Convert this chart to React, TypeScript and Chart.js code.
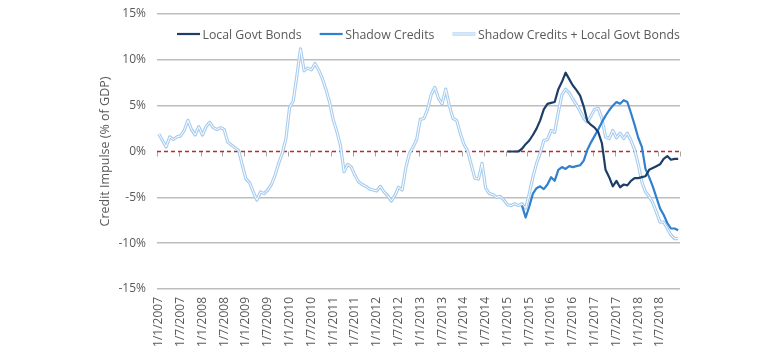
import React, { useEffect, useRef } from "react";
import { Chart, registerables } from "chart.js";

Chart.register(...registerables);

// Monthly categories Jan 2007 .. Dec 2018 (label format d/m/yyyy)
const YEARS = [2007, 2008, 2009, 2010, 2011, 2012, 2013, 2014, 2015, 2016, 2017, 2018];
const MONTHS = [1, 2, 3, 4, 5, 6, 7, 8, 9, 10, 11, 12];
const CATEGORIES: string[] = [];
YEARS.forEach((yr) => MONTHS.forEach((m) => CATEGORIES.push(`1/${m}/${yr}`)));

const Y_TICKS = [-15, -10, -5, 0, 5, 10, 15];

// Shadow Credits + Local Govt Bonds (whole period, % of GDP)
const COMBINED = [
  1.9, 1.2, 0.5, 1.6, 1.3, 1.6, 1.7, 2.3, 3.4, 2.4, 1.8, 2.7,
  1.8, 2.7, 3.2, 2.6, 2.4, 2.6, 2.4, 1.0, 0.7, 0.4, 0.1, -1.5,
  -3.0, -3.4, -4.4, -5.3, -4.4, -4.6, -4.2, -3.6, -2.6, -1.3, -0.2, 1.4,
  4.8, 5.5, 8.2, 11.2, 8.8, 9.1, 8.9, 9.6, 8.9, 8.0, 6.8, 5.4,
  3.5, 2.2, 0.7, -2.2, -1.4, -1.7, -2.6, -3.3, -3.6, -3.8, -4.1, -4.2,
  -4.3, -3.8, -4.4, -4.8, -5.4, -4.8, -3.9, -4.2, -1.8, -0.2, 0.5, 1.3,
  3.5, 3.6, 4.6, 6.2, 7.0, 5.8, 5.2, 6.8, 5.0, 3.6, 3.4, 2.0,
  0.8, 0.1, -1.4, -2.9, -3.0, -1.3, -4.0, -4.6, -4.7, -5.0, -4.9, -5.3,
  -5.8, -5.9, -5.7, -5.9, -5.7, -6.2, -4.6, -2.8, -1.3, -0.2, 1.2, 1.3,
  2.3, 2.1, 4.3, 6.2, 6.8, 6.4, 5.7, 5.1, 4.4, 3.6, 3.2, 3.9,
  4.6, 4.7, 3.6, 1.6, 1.4, 2.3, 1.5, 2.0, 1.4, 2.0, 1.2, 0.2,
  -1.4, -3.3, -4.4, -4.9, -5.6, -6.6, -7.7, -7.7, -8.4, -9.1, -9.5, -9.5,
];

// Local Govt Bonds (from Jan 2015)
const LOCAL_GOVT_BONDS = [
  ...Array(96).fill(null),
  0, 0, 0, 0, 0.3, 0.8, 1.2, 1.8, 2.5, 3.4, 4.6, 5.2,
  5.3, 5.4, 6.8, 7.6, 8.6, 7.9, 7.2, 6.7, 6.1, 4.9, 3.3, 2.9,
  2.6, 2.1, 0.9, -2.0, -2.8, -3.8, -3.2, -3.9, -3.6, -3.7, -3.2, -2.9,
  -2.9, -2.8, -2.7, -2.0, -1.8, -1.6, -1.4, -0.8, -0.5, -0.9, -0.8, -0.8,
];

// Shadow Credits (shown from May 2015)
const SHADOW_CREDITS = [
  ...Array(100).fill(null),
  -5.9, -7.2, -6.0, -4.6, -4.0, -3.8, -4.1, -3.6,
  -2.8, -3.2, -2.0, -1.7, -1.9, -1.6, -1.7, -1.6, -1.5, -1.0, 0.2, 1.0,
  1.7, 2.4, 3.2, 3.9, 4.5, 5.0, 5.4, 5.2, 5.6, 5.4, 4.2, 2.9,
  1.5, 0.5, -1.9, -2.8, -3.8, -5.0, -6.2, -6.9, -7.8, -8.4, -8.4, -8.6,
];

const NAVY = "#1d3f66";
const BLUE = "#3080d0";
const LIGHT = "#a9cdef";
const TEXT = "#595959";
const FONT_FAMILY = '"Open Sans", "Noto Sans", sans-serif';

const LEGEND_ITEMS = [
  { label: "Local Govt Bonds", kind: "navy" },
  { label: "Shadow Credits", kind: "blue" },
  { label: "Shadow Credits + Local Govt Bonds", kind: "hollow" },
];

const overlayPlugin = {
  id: "overlay",
  beforeDatasetsDraw(chart: any) {
    const { ctx, chartArea, scales } = chart;
    const x = scales.x;
    const y = scales.y;
    const y0 = y.getPixelForValue(0);
    const half = (x.getPixelForValue(1) - x.getPixelForValue(0)) / 2;
    ctx.save();
    ctx.strokeStyle = "#a6a6a6";
    ctx.lineWidth = 1;
    for (let k = 0; k <= CATEGORIES.length; k += 6) {
      const px = Math.round(x.getPixelForValue(k) - half) + 0.5;
      ctx.beginPath();
      ctx.moveTo(px, y0);
      ctx.lineTo(px, y0 + 5);
      ctx.stroke();
    }
    ctx.strokeStyle = "#c0282d";
    ctx.lineWidth = 1.5;
    ctx.setLineDash([4, 3]);
    ctx.beginPath();
    ctx.moveTo(chartArea.left, y0);
    ctx.lineTo(chartArea.right, y0);
    ctx.stroke();
    ctx.restore();
  },
  afterDatasetsDraw(chart: any) {
    const { ctx, chartArea } = chart;
    const yL = chartArea.top + 20;
    let xL = chartArea.left + 20;
    ctx.save();
    ctx.font = `12.3px ${FONT_FAMILY}`;
    ctx.textBaseline = "middle";
    ctx.textAlign = "left";
    LEGEND_ITEMS.forEach((it) => {
      const draw = (color: string, w: number) => {
        ctx.strokeStyle = color;
        ctx.lineWidth = w;
        ctx.beginPath();
        ctx.moveTo(xL, yL);
        ctx.lineTo(xL + 23, yL);
        ctx.stroke();
      };
      if (it.kind === "navy") draw(NAVY, 2.2);
      else if (it.kind === "blue") draw(BLUE, 2.2);
      else {
        draw(LIGHT, 3.2);
        draw("#ffffff", 1);
      }
      xL += 25.5;
      ctx.fillStyle = TEXT;
      ctx.fillText(it.label, xL, yL + 1);
      xL += ctx.measureText(it.label).width + 18;
    });
    ctx.restore();
  },
};

export default function App() {
  const canvasRef = useRef<HTMLCanvasElement | null>(null);

  useEffect(() => {
    if (!canvasRef.current) return;
    const chart = new Chart(canvasRef.current, {
      type: "line",
      data: {
        labels: CATEGORIES,
        datasets: [
          {
            label: "Local Govt Bonds",
            data: LOCAL_GOVT_BONDS,
            borderColor: NAVY,
            borderWidth: 2.2,
            borderJoinStyle: "round",
            pointRadius: 0,
            tension: 0,
          },
          {
            label: "Shadow Credits",
            data: SHADOW_CREDITS,
            borderColor: BLUE,
            borderWidth: 2.2,
            borderJoinStyle: "round",
            pointRadius: 0,
            tension: 0,
          },
          {
            label: "combined-inner",
            data: COMBINED,
            borderColor: "#ffffff",
            borderWidth: 1,
            borderJoinStyle: "round",
            pointRadius: 0,
            tension: 0,
          },
          {
            label: "Shadow Credits + Local Govt Bonds",
            data: COMBINED,
            borderColor: LIGHT,
            borderWidth: 3.2,
            borderJoinStyle: "round",
            pointRadius: 0,
            tension: 0,
          },
        ],
      },
      options: {
        animation: false,
        responsive: true,
        maintainAspectRatio: false,
        layout: { padding: { left: 94, right: 100, top: 14, bottom: 0 } },
        plugins: {
          legend: { display: false },
          tooltip: { enabled: false },
        },
        scales: {
          x: {
            type: "category",
            offset: true,
            grid: { display: false, drawTicks: false },
            border: { display: false },
            ticks: {
              autoSkip: false,
              maxRotation: 90,
              minRotation: 90,
              padding: 8,
              color: TEXT,
              font: { size: 12, family: FONT_FAMILY },
              callback: (_v: any, idx: number) => {
                const m = idx % 12;
                return m === 0 || m === 6 ? CATEGORIES[idx] : "";
              },
            },
            afterFit: (s: any) => {
              s.height = 68;
              s.paddingLeft = 0;
              s.paddingRight = 0;
            },
          },
          y: {
            min: -15,
            max: 15,
            afterBuildTicks: (s: any) => {
              s.ticks = Y_TICKS.map((v) => ({ value: v }));
            },
            grid: {
              drawTicks: false,
              lineWidth: 1.4,
              color: (c: any) => (c.tick && c.tick.value === 0 ? "rgba(0,0,0,0)" : "#bdbdbd"),
            },
            border: { display: false },
            ticks: {
              padding: 11,
              color: TEXT,
              font: { size: 12, family: FONT_FAMILY },
              callback: (v: any) => `${v}%`,
            },
            title: {
              display: true,
              text: "Credit Impulse (% of GDP)",
              color: TEXT,
              font: { size: 12.5, family: FONT_FAMILY },
              padding: { top: 4, bottom: 4 },
            },
            afterFit: (s: any) => {
              s.width = 63;
              s.paddingTop = 0;
              s.paddingBottom = 0;
            },
          },
        },
      },
      plugins: [overlayPlugin],
    });
    return () => chart.destroy();
  }, []);

  return (
    <div style={{ position: "absolute", left: 0, top: 0, width: 780, height: 357, background: "#ffffff" }}>
      <canvas ref={canvasRef} />
    </div>
  );
}
